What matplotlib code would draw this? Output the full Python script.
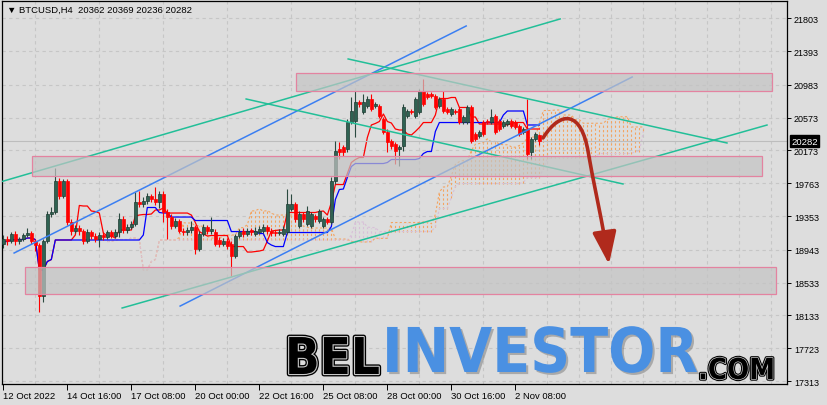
import numpy as np
import pandas as pd
import matplotlib
matplotlib.use("Agg")
import matplotlib.pyplot as plt
import matplotlib.patheffects as pe
from matplotlib.path import Path
from matplotlib.patches import FancyArrowPatch, Rectangle
from matplotlib import font_manager

# BTCUSD H4 candles (12 Oct 2022 00:00 onwards)
opens = [
    19011, 19073, 19048, 19135, 19048, 19073, 19123, 19148, 19048, 18999,
    18368, 19048, 19383, 19407, 19791, 19605, 19791, 19284, 19172, 19209,
    19172, 19048, 19160, 19110, 19073, 19123, 19098, 19160, 19110, 19160,
    19321, 19185, 19222, 19259, 19531, 19506, 19543, 19605, 19568, 19531,
    19630, 19407, 19345, 19234, 19296, 19172, 19160, 19185, 19222, 18950,
    19135, 19222, 19172, 19160, 19061, 19011, 19048, 19011, 18863, 19110,
    19172, 19135, 19185, 19135, 19160, 19172, 19222, 19172, 19160, 19148,
    19135, 19160, 19444, 19506, 19234, 19383, 19259, 19234, 19358, 19296,
    19234, 19321, 19284, 19791, 20187, 20211, 20187, 20521, 20533, 20768,
    20644, 20718, 20805, 20718, 20718, 20558, 20397, 20285, 20248, 20187,
    20224, 20595, 20657, 20595, 20644, 20904, 20867, 20867, 20842, 20718,
    20805, 20681, 20619, 20657, 20681, 20521, 20521, 20706, 20372, 20347,
    20521, 20533, 20521, 20595, 20533, 20471, 20496, 20533, 20521, 20471,
    20397, 20434, 20149, 20310, 20362]
highs = [
    19123, 19110, 19160, 19172, 19098, 19148, 19209, 19172, 19073, 19024,
    19073, 19420, 19469, 19952, 19828, 19815, 19815, 19321, 19246, 19246,
    19197, 19197, 19185, 19148, 19160, 19160, 19185, 19185, 19197, 19395,
    19358, 19259, 19296, 19655, 19667, 19593, 19642, 19630, 19716, 19667,
    19667, 19444, 19383, 19333, 19321, 19209, 19222, 19296, 19246, 19172,
    19259, 19246, 19345, 19197, 19098, 19086, 19086, 19048, 19135, 19197,
    19209, 19209, 19209, 19222, 19234, 19259, 19246, 19209, 19185, 19197,
    19234, 19692, 19630, 19531, 19420, 19407, 19481, 19407, 19383, 19444,
    19345, 19345, 19840, 20285, 20273, 20236, 20558, 20830, 20904, 20793,
    20867, 20842, 20867, 20768, 20743, 20582, 20434, 20310, 20273, 20236,
    20743, 20681, 20681, 20830, 20929, 21052, 20892, 20892, 20867, 20830,
    20904, 20706, 20706, 20681, 20706, 20607, 20731, 20731, 20397, 20422,
    20545, 20558, 20681, 20619, 20558, 20545, 20558, 20558, 20545, 20496,
    20459, 20805, 20335, 20397, 20369]
lows = [
    18962, 18999, 19024, 18999, 19011, 19048, 19098, 19011, 18925, 18170,
    18294, 19024, 19345, 19383, 19568, 19580, 19246, 19123, 19148, 19123,
    19011, 19024, 19073, 19036, 18974, 19061, 19073, 19086, 19086, 19098,
    19148, 19148, 19197, 19234, 19469, 19469, 19506, 19531, 19494, 19457,
    19284, 19073, 19197, 19209, 19148, 19123, 19123, 19148, 18888, 18925,
    19110, 19135, 19135, 18987, 18974, 18987, 18950, 18615, 18838, 19086,
    19098, 19110, 19123, 19110, 19135, 19148, 19135, 19110, 19110, 19123,
    19110, 19135, 19420, 19284, 19209, 19284, 19234, 19209, 19284, 19271,
    19209, 19259, 19259, 19754, 20063, 20100, 20149, 20496, 20335, 20706,
    20619, 20694, 20657, 20694, 20570, 20372, 20149, 20187, 20001, 19976,
    20162, 20570, 20619, 20570, 20619, 20718, 20805, 20817, 20681, 20694,
    20632, 20619, 20595, 20619, 20496, 20496, 20496, 20261, 20285, 20323,
    20347, 20496, 20496, 20372, 20409, 20446, 20471, 20446, 20434, 20347,
    20372, 20063, 20063, 20285, 20236]
closes = [
    19073, 19048, 19135, 19048, 19073, 19123, 19148, 19048, 18999, 18368,
    19048, 19383, 19407, 19791, 19605, 19791, 19284, 19172, 19209, 19172,
    19048, 19160, 19110, 19073, 19123, 19098, 19160, 19110, 19160, 19321,
    19185, 19222, 19259, 19531, 19506, 19543, 19605, 19568, 19531, 19630,
    19407, 19345, 19234, 19296, 19172, 19160, 19185, 19222, 18950, 19135,
    19222, 19172, 19197, 19011, 19011, 19048, 18987, 18863, 19110, 19160,
    19135, 19172, 19160, 19172, 19197, 19222, 19172, 19148, 19148, 19160,
    19197, 19506, 19506, 19321, 19383, 19321, 19420, 19383, 19321, 19420,
    19321, 19284, 19791, 20162, 20149, 20149, 20521, 20657, 20768, 20743,
    20768, 20805, 20681, 20743, 20595, 20397, 20273, 20224, 20162, 20211,
    20706, 20657, 20644, 20805, 20904, 20743, 20830, 20842, 20706, 20805,
    20657, 20644, 20681, 20644, 20521, 20582, 20706, 20285, 20310, 20397,
    20372, 20521, 20582, 20397, 20434, 20521, 20533, 20471, 20459, 20372,
    20434, 20125, 20310, 20372, 20282]

date_labels = ["12 Oct 2022", "14 Oct 16:00", "17 Oct 08:00", "20 Oct 00:00",
               "22 Oct 16:00", "25 Oct 08:00", "28 Oct 00:00", "30 Oct 16:00",
               "2 Nov 08:00"]
price_ticks = [21803, 21393, 20983, 20573, 20173, 19763, 19353, 18943,
               18533, 18133, 17723, 17313]
last_price = 20282

# drawn objects, as (bar, price) pairs
blue_lines = [((2.7, 18900), (115.7, 21708)), ((44.2, 18244), (157.2, 21077))]
teal_lines = [((-0.8, 19778), (139.2, 21795)), ((29.7, 18220), (190.9, 20483)),
              ((86.2, 21300), (180.9, 20261)), ((60.7, 20805), (154.9, 19754))]
zones = [(73.2, 192.2, 20904, 21127), (7.2, 189.7, 19853, 20100),
         (5.4, 193.2, 18393, 18727)]
arrow_pts = [(134.9, 20323), (139.5, 20680), (144.5, 20650), (146.2, 20149),
             (147.0, 19900), (150.3, 19150), (151.4, 18760)]

W, H = 828, 406
BG = "#dddddd"

o = np.array(opens); h = np.array(highs); l = np.array(lows); c = np.array(closes)
n = len(c)
x = np.arange(n)

# ichimoku 9/26/52
hs, ls = pd.Series(h), pd.Series(l)
tenkan = (hs.rolling(9, min_periods=1).max() + ls.rolling(9, min_periods=1).min()) / 2
kijun = (hs.rolling(26, min_periods=1).max() + ls.rolling(26, min_periods=1).min()) / 2
span_a = ((tenkan + kijun) / 2).to_numpy()
span_b = ((hs.rolling(52, min_periods=1).max() + ls.rolling(52, min_periods=1).min()) / 2).to_numpy()
xc = x + 26

fig = plt.figure(figsize=(W / 100, H / 100), dpi=100, facecolor=BG)
ax = fig.add_axes([2 / W, (H - 385) / H, 785 / W, 383 / H], facecolor=BG)
ax.set_xlim(-0.33, 195.9)
ax.set_ylim(17280, 22017)

# grid
ax.set_xticks(np.arange(0, 196, 8), minor=True)
ax.grid(which="minor", axis="x", color="#c6c6c6", linestyle=(0, (3, 3)), lw=0.8, zorder=0)
ax.set_yticks(price_ticks)
ax.grid(which="major", axis="y", color="#c6c6c6", linestyle=(0, (3, 3)), lw=0.8, zorder=0)
ax.set_axisbelow(True)

# cloud
up = span_a >= span_b
lo = np.minimum(span_a, span_b); hi = np.maximum(span_a, span_b)
ax.vlines(xc[up], lo[up], hi[up], color="#f4a460", lw=0.8, linestyles=(0, (2, 2)), zorder=1)
ax.vlines(xc[~up], lo[~up], hi[~up], color="#d8bfd8", lw=0.8, linestyles=(0, (2, 2)), zorder=1)
ax.plot(xc, span_a, color="#f4a460", lw=0.8, ls=(0, (2, 2)), zorder=1)
ax.plot(xc, span_b, color="#d8bfd8", lw=0.8, ls=(0, (2, 2)), zorder=1)

ax.plot(x, tenkan, color="#ff0000", lw=0.9, zorder=2)
ax.plot(x, kijun, color="#0000ff", lw=0.9, zorder=2)

# candles
bull = c >= o
ax.vlines(x[bull], l[bull], h[bull], color="#2b4a40", lw=0.8, zorder=3)
ax.vlines(x[~bull], l[~bull], h[~bull], color="#ff0000", lw=0.8, zorder=3)
ax.bar(x[bull], (c - o)[bull], bottom=o[bull], width=0.72, color="#2f6252",
       edgecolor="#1d3b31", lw=0.5, zorder=3)
ax.bar(x[~bull], (o - c)[~bull], bottom=c[~bull], width=0.72, color="#ff0000",
       edgecolor="#ff0000", lw=0.5, zorder=3)

ax.axhline(last_price, color="#bdbdbd", lw=0.8, zorder=2)

for (x0, y0), (x1, y1) in blue_lines:
    ax.plot([x0, x1], [y0, y1], color="#3b7ff2", lw=1.1, zorder=4)
for (x0, y0), (x1, y1) in teal_lines:
    ax.plot([x0, x1], [y0, y1], color="#22bf98", lw=1.1, zorder=4)

for x0, x1, y0, y1 in zones:
    ax.add_patch(Rectangle((x0, y0), x1 - x0, y1 - y0, facecolor="#c4c4c4",
                           edgecolor="none", alpha=0.7, zorder=5))
    ax.add_patch(Rectangle((x0, y0), x1 - x0, y1 - y0, facecolor="none",
                           edgecolor="#e383a0", lw=0.9, zorder=5))

codes = [Path.MOVETO] + [Path.CURVE4] * 6
arrow = FancyArrowPatch(path=Path(arrow_pts, codes),
                        arrowstyle="-|>,head_length=0.9,head_width=0.33",
                        mutation_scale=22, color="#b02a1c", lw=2.6, zorder=6)
ax.add_patch(arrow)

# axes styling
for s in ax.spines.values():
    s.set_color("black")
    s.set_linewidth(0.9)
ax.yaxis.tick_right()
ax.tick_params(axis="y", which="major", length=3, width=0.7, pad=2,
               labelsize=6.5, colors="black")
ax.set_yticklabels([str(p) for p in price_ticks], family=["Liberation Sans", "DejaVu Sans"])
ax.set_xticks(np.arange(0, 16 * len(date_labels), 16))
ax.set_xticklabels(date_labels, family=["Liberation Sans", "DejaVu Sans"])
ax.tick_params(axis="x", which="major", length=4, width=0.7, pad=1, labelsize=6.8)
ax.tick_params(axis="x", which="minor", length=0)
for lbl in ax.get_xticklabels():
    lbl.set_horizontalalignment("left")

ax.annotate(str(last_price), xy=(1, last_price), xycoords=("axes fraction", "data"),
            xytext=(3, 0), textcoords="offset points", va="center", ha="left",
            fontsize=6.8, color="white", family=["Liberation Sans", "DejaVu Sans"],
            bbox=dict(boxstyle="square,pad=0.15", fc="black", ec="black"), zorder=10)

ax.text(0.007, 0.977, "\u25bc BTCUSD,H4  %d %d %d %d" % (opens[-1], highs[-1], lows[-1], closes[-1]),
        transform=ax.transAxes, va="center", ha="left", fontsize=6.8,
        family=["Liberation Sans", "DejaVu Sans"], zorder=10)

# watermark
names = {f.name for f in font_manager.fontManager.ttflist}
wm_font = "Liberation Sans Narrow" if "Liberation Sans Narrow" in names else "DejaVu Sans"
renderer = fig.canvas.get_renderer()


def fit_text(px, py, s, width_px, **kw):
    # bottom of the text box sits on py; size set so the word fills width_px
    t = fig.text(px / W, 1 - py / H, s, fontsize=40, va="bottom", ha="left",
                 family=wm_font, weight="bold", fontstretch="condensed", zorder=20, **kw)
    w = t.get_window_extent(renderer).width
    t.set_fontsize(40 * width_px / w)
    return t


fit_text(285, 386, "BEL", 95, color="black",
         path_effects=[pe.Stroke(linewidth=3.5, foreground="black"),
                       pe.Stroke(linewidth=1.6, foreground="#c8c8c8"),
                       pe.Normal()])
fit_text(382, 386, "INVESTOR", 316, color="#4a90e2",
         path_effects=[pe.withSimplePatchShadow(offset=(1.5, -1.5), shadow_rgbFace="#777777", alpha=0.5)])
fit_text(698, 386, ".COM", 77, color="black",
         path_effects=[pe.Stroke(linewidth=2.5, foreground="black"),
                       pe.Stroke(linewidth=1.0, foreground="#c8c8c8"),
                       pe.Normal()])

fig.savefig("out.png", dpi=100, facecolor=BG)
